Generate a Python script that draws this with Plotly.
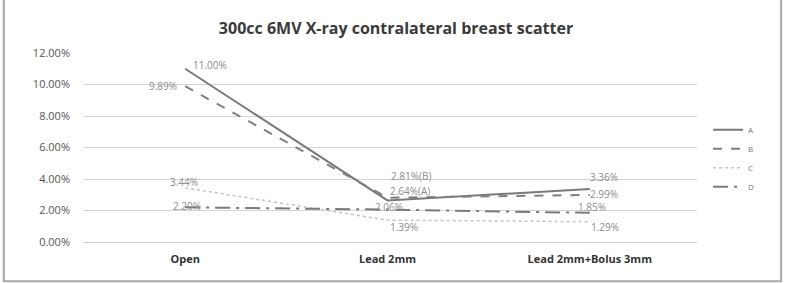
import plotly.graph_objects as go

categories = ["Open", "Lead 2mm", "Lead 2mm+Bolus 3mm"]
series_names = ["A", "B", "C", "D"]
a_vals = [11.00, 2.64, 3.36]
b_vals = [9.89, 2.81, 2.99]
c_vals = [3.44, 1.39, 1.29]
d_vals = [2.20, 2.06, 1.85]
y_ticks = [0, 2, 4, 6, 8, 10, 12]
title = "300cc 6MV X-ray contralateral breast scatter"

styles = {
    "A": dict(color="#7a7a7a", width=2, dash="solid"),
    "B": dict(color="#7f7f7f", width=2, dash="dash"),
    "C": dict(color="#c4c4c4", width=1.5, dash="dot"),
    "D": dict(color="#7a7a7a", width=2, dash="longdashdot"),
}

fig = go.Figure()
for name, vals in zip(series_names, [a_vals, b_vals, c_vals, d_vals]):
    fig.add_trace(go.Scatter(x=categories, y=vals, mode="lines", name=name,
                             line=styles[name]))

# data labels: (series values, index, suffix, xshift, yshift)
label_specs = [
    (a_vals, 0, "", 25, 4), (b_vals, 0, "", -22, 0),
    (c_vals, 0, "", -1, 6), (d_vals, 0, "", 2, 1),
    (b_vals, 1, "(B)", 24, 22), (a_vals, 1, "(A)", 23, 9),
    (d_vals, 1, "", 2, 3), (c_vals, 1, "", 17, -7),
    (a_vals, 2, "", 14, 12), (b_vals, 2, "", 14, 1),
    (d_vals, 2, "", 2, 6), (c_vals, 2, "", 15, -5),
]
for vals, i, suf, xs, ys in label_specs:
    fig.add_annotation(x=i, y=vals[i], text=f"{vals[i]:.2f}%{suf}",
                       showarrow=False, xshift=xs, yshift=ys,
                       font=dict(family="Open Sans", size=10, color="#8c8c8c"))

fig.add_shape(type="rect", xref="paper", yref="paper",
              x0=-0.129, x1=1.137, y0=-0.208, y1=1.30,
              line=dict(color="#a8a8a8", width=2), layer="below")

fig.update_layout(
    width=792, height=283,
    margin=dict(l=83, r=95, t=53, b=41),
    paper_bgcolor="white", plot_bgcolor="white",
    title=dict(text=f"<b>{title}</b>", x=0.5, xanchor="center", y=0.9, yanchor="middle",
               font=dict(family="Open Sans", size=16, color="#3a3a3a")),
    showlegend=True,
    legend=dict(x=1.018, y=0.67, xanchor="left", yanchor="top",
                font=dict(family="Open Sans", size=8, color="#777"),
                itemwidth=30, tracegroupgap=0, bgcolor="rgba(0,0,0,0)"),
    xaxis=dict(type="category", range=[-0.505, 2.53], showgrid=False, showline=False, ticks="",
               tickfont=dict(family="Open Sans", size=11, color="#333"),
               tickprefix="<b>", ticksuffix="</b>", ticklabelstandoff=9),
    yaxis=dict(range=[0, 12], tickvals=y_ticks,
               ticktext=[f"{v:.2f}%" for v in y_ticks],
               showgrid=True, gridcolor="#d4d4d4", gridwidth=1,
               zeroline=True, zerolinecolor="#cfcfcf", zerolinewidth=1,
               tickfont=dict(family="Open Sans", size=11, color="#555"),
               ticklabelstandoff=12, showline=False),
)

fig.write_html("out.html")
